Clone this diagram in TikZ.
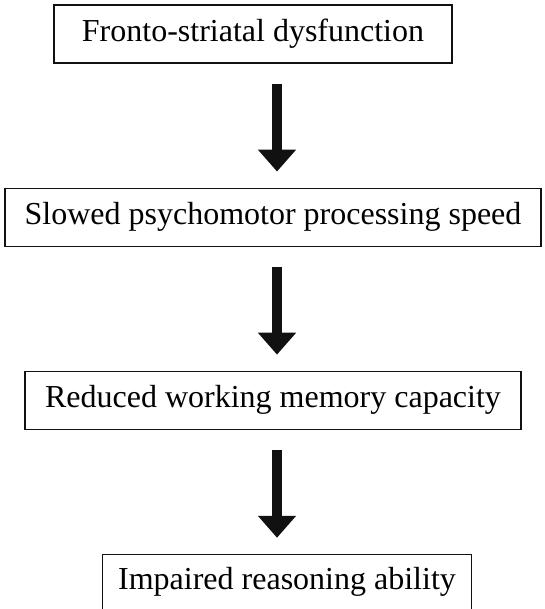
\documentclass[tikz,border=0pt]{standalone}
\usepackage{fontspec}
\setmainfont{Liberation Serif}
\usepackage{tikz}
\usetikzlibrary{arrows.meta, positioning}
\definecolor{ink}{HTML}{111111}

\begin{document}
\begin{tikzpicture}[x=1pt, y=1pt, node distance=124pt]
    \tikzstyle{stage} = [rectangle, draw=ink, fill=white, line width=1.1pt, minimum height=58pt, inner sep=0pt, text centered, font=\fontsize{32}{38}\selectfont]
    \tikzstyle{bigarrow} = [draw=ink, fill=ink, line width=10pt, -{Triangle[width=37pt, length=22pt]}, shorten <=20pt, shorten >=16pt]
    \useasboundingbox (0,0) rectangle (544,-609);

    \node [stage, minimum width=398pt] (fronto) at (253,-34) {Fronto-striatal dysfunction};
    \node [stage, minimum width=536pt, below=of fronto, xshift=20pt] (slowed) {Slowed psychomotor processing speed};
    \node [stage, minimum width=496pt, below=of slowed] (memory) {Reduced working memory capacity};
    \node [stage, minimum width=369pt, minimum height=55pt, below=of memory, xshift=14pt] (reason) {Impaired reasoning ability};

    % all three arrows share one vertical axis
    \coordinate (axis) at (277,0);
    \path [bigarrow] (fronto.south -| axis) -- (slowed.north -| axis);
    \path [bigarrow] (slowed.south -| axis) -- (memory.north -| axis);
    \path [bigarrow] (memory.south -| axis) -- (reason.north -| axis);
\end{tikzpicture}
\end{document}
